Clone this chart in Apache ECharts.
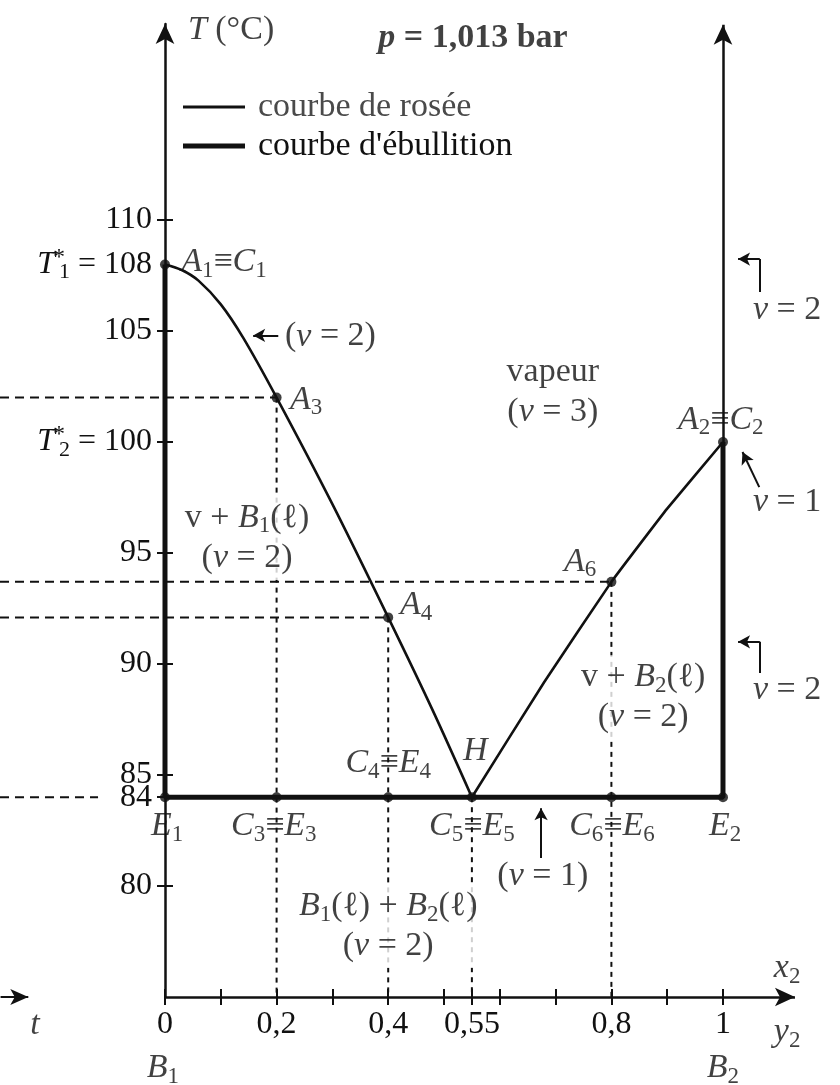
<!DOCTYPE html>
<html>
<head>
<meta charset="utf-8">
<title>Diagramme isobare – liquides non miscibles</title>
<script src="https://cdn.jsdelivr.net/npm/echarts@6/dist/echarts.min.js"></script>
<style>
  html, body { margin: 0; padding: 0; background: #fff; }
  #chart { width: 840px; height: 1085px; }
</style>
</head>
<body>
<div id="chart"></div>
<script>
// Isobaric T–x diagram of two immiscible liquids B1 / B2 (heteroazeotrope H)

// ---- data ----------------------------------------------------------------
// dew curve, B1 side (from A1 = T1* down to H)
const dewLeft = [[0, 108], [0.03, 107.75], [0.06, 107.27], [0.1, 106.2], [0.14, 104.7], [0.2, 102],
                 [0.3, 97.2], [0.4, 92.1], [0.48, 87.9], [0.55, 84]];
// dew curve, B2 side (from H up to A2 = T2*)
const dewRight = [[0.55, 84], [0.68, 89.2], [0.8, 93.7], [0.9, 97.0], [1, 100]];
// boiling curve: pure B1 vertical, three-phase line at 84 °C, pure B2 vertical
const boilingCurve = [[0, 108], [0, 84], [1, 84], [1, 100]];

// marked points
const pointNames = ['A1', 'A3', 'A4', 'A6', 'A2', 'E1', 'C3', 'C4', 'H', 'C6', 'E2'];
const pointX = [0, 0.2, 0.4, 0.8, 1, 0, 0.2, 0.4, 0.55, 0.8, 1];
const pointT = [108, 102, 92.1, 93.7, 100, 84, 84, 84, 84, 84, 84];

// points projected onto the T axis (horizontal dashes) and the x axis (vertical dots)
const projectedOnT = ['A3', 'A6', 'A4'];
const projectedOnX = ['A3', 'A4', 'H', 'A6'];

// axis ticks and labels
const xTickValues = [0, 0.1, 0.2, 0.3, 0.4, 0.5, 0.55, 0.6, 0.7, 0.8, 0.9, 1];
const xLabelValues = [0, 0.2, 0.4, 0.55, 0.8, 1];
const yTickValues = [80, 84, 85, 90, 95, 100, 105, 110];
const yLabelValues = [80, 84, 85, 90, 95, 100, 105, 108, 110];

// ---- layout & style --------------------------------------------------------
const X_MIN = -0.2957, X_MAX = 1.2097;
const Y_MIN = 75, Y_MAX = 118.83;
const T_AXIS_OFFSET = -165;     // moves the T axis from the canvas edge onto x = 0
const INK = '#111';
const SERIF = '"Liberation Serif", "Times New Roman", "DejaVu Serif", serif';

function pt(name) {
  const i = pointNames.indexOf(name);
  return [pointX[i], pointT[i]];
}

function txt(size, extra) {
  return Object.assign({ fontFamily: SERIF, fontSize: size, color: INK, align: 'center' }, extra || {});
}

const RICH = {
  r:  txt(34, { lineHeight: 40 }),
  i:  txt(34, { lineHeight: 40, fontStyle: 'italic' }),
  b:  txt(34, { lineHeight: 40, fontWeight: 'bold' }),
  bi: txt(34, { lineHeight: 40, fontWeight: 'bold', fontStyle: 'italic' }),
  s:  txt(23, { lineHeight: 23, verticalAlign: 'bottom' })
};

const AXIS_RICH = {
  r:  { fontFamily: SERIF, fontSize: 32, lineHeight: 38, color: INK },
  i:  { fontFamily: SERIF, fontSize: 32, lineHeight: 38, color: INK, fontStyle: 'italic' },
  gap: { fontFamily: SERIF, fontSize: 10, lineHeight: 10, width: 4, align: 'left' },
  st: { fontFamily: SERIF, fontSize: 24, lineHeight: 24, color: INK, verticalAlign: 'top', align: 'left', width: 0 },
  sb: { fontFamily: SERIF, fontSize: 22, lineHeight: 22, color: INK, verticalAlign: 'bottom' }
};

// text annotations: anchor in data coordinates
const notes = [
  { x: 0.041, t: 118.56, text: '{i|T}{r| (°C)}', align: 'left' },
  { x: 0.552, t: 118.2, text: '{bi|p}{b| = 1,013 bar}' },
  { x: 0.029, t: 108.1, text: '{i|A}{s|1}{r|≡}{i|C}{s|1}', align: 'left' },
  { x: 0.215, t: 104.75, text: '{r|(}{i|ν}{r| = 2)}', align: 'left' },
  { x: 0.224, t: 101.9, text: '{i|A}{s|3}', align: 'left' },
  { x: 0.695, t: 102.25, text: '{r|vapeur}\n{r|(}{i|ν}{r| = 3)}' },
  { x: 0.996, t: 101.0, text: '{i|A}{s|2}{r|≡}{i|C}{s|2}' },
  { x: 1.115, t: 105.95, text: '{i|ν}{r| = 2}' },
  { x: 1.115, t: 97.3, text: '{i|ν}{r| = 1}' },
  { x: 0.147, t: 95.68, text: '{r|v + }{i|B}{s|1}{r|(ℓ)}\n{r|(}{i|ν}{r| = 2)}', bg: true },
  { x: 0.421, t: 92.66, text: '{i|A}{s|4}', align: 'left' },
  { x: 0.744, t: 94.6, text: '{i|A}{s|6}' },
  { x: 0.857, t: 88.5, text: '{r|v + }{i|B}{s|2}{r|(ℓ)}\n{r|(}{i|ν}{r| = 2)}', bg: true },
  { x: 1.115, t: 88.83, text: '{i|ν}{r| = 2}' },
  { x: 0.556, t: 86.08, text: '{i|H}' },
  { x: 0.40, t: 85.54, text: '{i|C}{s|4}{r|≡}{i|E}{s|4}' },
  { x: 0.004, t: 82.7, text: '{i|E}{s|1}' },
  { x: 0.195, t: 82.7, text: '{i|C}{s|3}{r|≡}{i|E}{s|3}' },
  { x: 0.55, t: 82.7, text: '{i|C}{s|5}{r|≡}{i|E}{s|5}' },
  { x: 0.801, t: 82.7, text: '{i|C}{s|6}{r|≡}{i|E}{s|6}' },
  { x: 1.004, t: 82.7, text: '{i|E}{s|2}' },
  { x: 0.677, t: 80.45, text: '{r|(}{i|ν}{r| = 1)}' },
  { x: 0.40, t: 78.2, text: '{i|B}{s|1}{r|(ℓ) + }{i|B}{s|2}{r|(ℓ)}\n{r|(}{i|ν}{r| = 2)}', bg: true },
  { x: 1.115, t: 76.3, text: '{i|x}{s|2}' },
  { x: 1.115, t: 73.4, text: '{i|y}{s|2}' },
  { x: -0.004, t: 71.8, text: '{i|B}{s|1}' },
  { x: 1.0, t: 71.8, text: '{i|B}{s|2}' },
  { x: -0.233, t: 73.74, text: '{i|t}' }
];

// arrows: [from, to, arrow size, curveness]
const ARROW_BIG = [14, 20];
const arrows = [
  [[0, Y_MIN], [1.129, Y_MIN], ARROW_BIG, 0],              // x axis
  [[1, 100], [1, 118.8], ARROW_BIG, 0],                     // pure B2 axis above T2*
  [[X_MIN + 0.001, Y_MIN], [-0.245, Y_MIN], [12, 18], 0],   // time arrow
  [[0.203, 104.8], [0.158, 104.8], [10, 12], 0],            // points to the dew curve
  [[1.066, 106.76], [1.066, 108.24], null, 0],
  [[1.066, 108.24], [1.027, 108.24], [10, 12], 0],
  [[1.066, 89.6], [1.066, 91.0], null, 0],
  [[1.066, 91.0], [1.027, 91.0], [10, 12], 0],
  [[1.065, 97.97], [1.035, 99.55], [10, 12], -0.35],
  [[0.674, 81.26], [0.674, 83.5], [10, 12], 0]
];

// ---- series -----------------------------------------------------------------
const dashSeries = [];
projectedOnT.forEach(function (n) {
  const p = pt(n);
  dashSeries.push([[X_MIN, p[1]], p, [9, 6]]);
});
dashSeries.push([[X_MIN, 84], [-0.12, 84], [9, 6]]);
projectedOnX.forEach(function (n) {
  const p = pt(n);
  dashSeries.push([p, [p[0], Y_MIN], [5, 5]]);
});

const series = [];

dashSeries.forEach(function (d) {
  series.push({
    type: 'line', data: [d[0], d[1]], symbol: 'none', silent: true, z: 1,
    lineStyle: { color: INK, width: 2, type: d[2] }
  });
});

series.push({
  name: 'courbe de rosée', type: 'line', data: dewLeft, smooth: 0.3,
  symbol: 'none', silent: true, z: 3,
  itemStyle: { color: INK }, lineStyle: { color: INK, width: 2.6 }
});
series.push({
  name: 'courbe de rosée', type: 'line', data: dewRight, smooth: 0.1,
  symbol: 'none', silent: true, z: 3,
  itemStyle: { color: INK }, lineStyle: { color: INK, width: 2.6 }
});
series.push({
  name: "courbe d'ébullition", type: 'line', data: boilingCurve,
  symbol: 'none', silent: true, z: 4,
  itemStyle: { color: INK }, lineStyle: { color: INK, width: 5 }
});

series.push({
  type: 'scatter', silent: true, z: 5, symbolSize: 10,
  itemStyle: { color: INK },
  data: pointNames.map(function (n) { return pt(n); })
});

series.push({
  type: 'line', data: [], silent: true, z: 6,
  markLine: {
    silent: true, animation: false,
    symbol: ['none', 'arrow'],
    label: { show: false },
    emphasis: { disabled: true },
    data: arrows.map(function (a) {
      const ls = { color: INK, width: a[2] === ARROW_BIG ? 2.5 : 2, type: 'solid', curveness: a[3] };
      return [
        { coord: a[0], symbol: 'none', lineStyle: ls },
        { coord: a[1], symbol: a[2] ? 'arrow' : 'none', symbolSize: a[2] || 0, lineStyle: ls }
      ];
    })
  }
});

series.push({
  type: 'scatter', silent: true, z: 10, clip: false, symbolSize: 1,
  itemStyle: { color: 'rgba(0,0,0,0)' },
  data: notes.map(function (n) {
    return {
      value: [n.x, n.t],
      label: {
        show: true, position: 'inside', formatter: n.text,
        align: n.align || 'center', verticalAlign: 'middle',
        backgroundColor: n.bg ? '#fff' : 'transparent',
        padding: n.bg ? [2, 3] : 0,
        rich: RICH
      }
    };
  })
});

// ---- axes -------------------------------------------------------------------
function yLabel(v) {
  if (v === 108) return '{i|T}{gap| }{st|*}{sb|1}{r| = 108}';
  if (v === 100) return '{i|T}{gap| }{st|*}{sb|2}{r| = 100}';
  return '{r|' + v + '}';
}

const tickLine = { color: INK, width: 2 };

const option = {
  animation: false,
  backgroundColor: '#fff',
  color: [INK],
  grid: { left: 0, right: 0, top: 24, bottom: 88, containLabel: false, outerBoundsMode: 'none' },
  legend: {
    data: [
      { name: 'courbe de rosée', icon: 'path://M0,0H60V3H0Z', textStyle: { color: '#4a4a4a' } },
      { name: "courbe d'ébullition", icon: 'path://M0,0H62V5H0Z' }
    ],
    orient: 'vertical', left: 183, top: 89, padding: 0,
    itemWidth: 62, itemHeight: 20, itemGap: 3,
    selectedMode: false,
    textStyle: { fontFamily: SERIF, fontSize: 34, lineHeight: 36, color: INK, padding: [0, 0, 0, 8] }
  },
  xAxis: [
    {
      type: 'value', min: X_MIN, max: X_MAX,
      axisLine: { show: false },
      splitLine: { show: false },
      axisTick: { show: true, customValues: xTickValues, length: 8, lineStyle: tickLine },
      axisLabel: {
        customValues: xLabelValues, margin: 12,
        fontFamily: SERIF, fontSize: 32, color: INK,
        formatter: function (v) { return String(v).replace('.', ','); }
      }
    },
    {
      type: 'value', min: X_MIN, max: X_MAX, position: 'bottom',
      axisLine: { show: false }, splitLine: { show: false }, axisLabel: { show: false },
      axisTick: { show: true, customValues: xTickValues, inside: true, length: 8, lineStyle: tickLine }
    }
  ],
  yAxis: [
    {
      type: 'value', min: Y_MIN, max: Y_MAX, position: 'left', offset: T_AXIS_OFFSET,
      axisLine: { onZero: false, symbol: ['none', 'arrow'], symbolSize: ARROW_BIG, lineStyle: { color: INK, width: 2.5 } },
      splitLine: { show: false },
      axisTick: { show: true, customValues: yTickValues, length: 8, lineStyle: tickLine },
      axisLabel: { customValues: yLabelValues, margin: 13, formatter: yLabel, rich: AXIS_RICH, color: INK }
    },
    {
      type: 'value', min: Y_MIN, max: Y_MAX, position: 'left', offset: T_AXIS_OFFSET,
      axisLine: { show: false, onZero: false }, splitLine: { show: false }, axisLabel: { show: false },
      axisTick: { show: true, customValues: yTickValues, inside: true, length: 8, lineStyle: tickLine }
    }
  ],
  series: series
};

const chart = echarts.init(document.getElementById('chart'), null, { renderer: 'canvas' });
chart.setOption(option);
</script>
</body>
</html>
